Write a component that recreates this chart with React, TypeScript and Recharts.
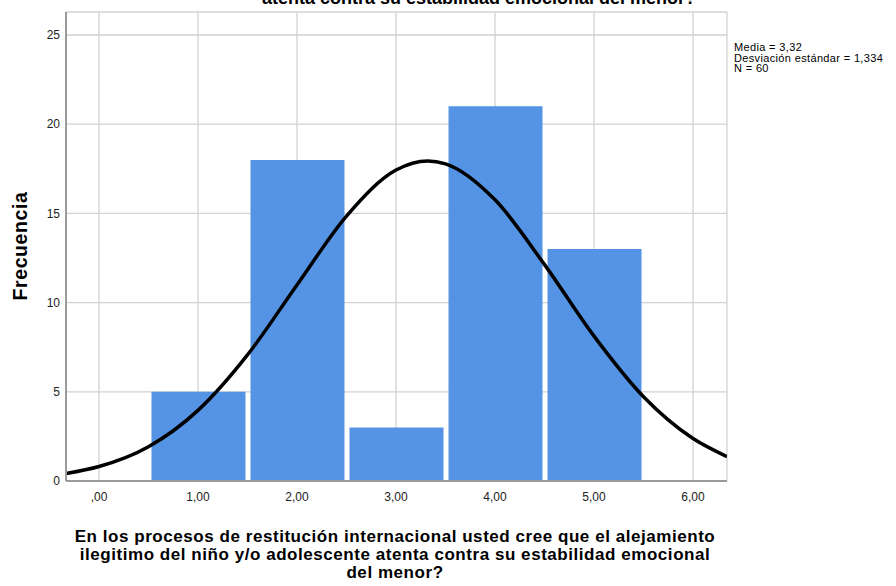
import React from "react";
import {
  ComposedChart,
  Bar,
  Line,
  XAxis,
  YAxis,
  CartesianGrid,
} from "recharts";

// Histogram bins (centres) and frequencies
const binCenters = [1, 2, 3, 4, 5];
const frequencies = [5, 18, 3, 21, 13];

// Normal curve
const curveX = [-0.333, 0, 0.5, 1, 1.5, 2, 2.5, 3, 3.32, 3.5, 4, 4.5, 5, 5.5, 6, 6.343];
const curveY = [0.42, 0.81, 1.92, 3.96, 7.07, 10.99, 14.85, 17.43, 17.94, 17.78, 15.76, 12.13, 8.12, 4.72, 2.38, 1.37];

// Axis ticks and labels
const xTicks = [0, 1, 2, 3, 4, 5, 6];
const xTickLabels = [",00", "1,00", "2,00", "3,00", "4,00", "5,00", "6,00"];
const yTicks = [0, 5, 10, 15, 20, 25];

const titleTail = "atenta contra su estabilidad emocional del menor?";
const xLabelLines = [
  "En los procesos de restitución internacional usted cree que el alejamiento",
  "ilegitimo del niño y/o adolescente atenta contra su estabilidad emocional",
  "del menor?",
];
const statsLines = ["Media = 3,32", "Desviación estándar = 1,334", "N = 60"];
const yLabel = "Frecuencia";

const barRows = binCenters.map((x, i) => ({ x, count: frequencies[i] }));
const curveRows = curveX.map((x, i) => ({ x, y: curveY[i] }));

const FONT = "'Liberation Sans', Arial, sans-serif";
const X_DOMAIN: [number, number] = [-0.333, 6.343];

export default function App() {
  return (
    <div style={{ position: "absolute", left: 0, top: 0, width: 896, height: 586, background: "#fff" }}>
      <ComposedChart
        width={896}
        height={586}
        data={barRows}
        margin={{ top: 12, right: 169, bottom: 75, left: 0 }}
        style={{ fontFamily: FONT }}
      >
        <CartesianGrid stroke="#d2d2d2" strokeWidth={1.3} />
        <XAxis
          dataKey="x"
          type="number"
          domain={X_DOMAIN}
          allowDataOverflow
          ticks={xTicks}
          tickFormatter={(v: number) => xTickLabels[xTicks.indexOf(v)] ?? ""}
          tickLine={false}
          tickSize={6}
          tickMargin={5}
          height={30}
          axisLine={{ stroke: "#9a9a9a", strokeWidth: 2 }}
          tick={{ fill: "#222", fontSize: 12 }}
        />
        <XAxis
          xAxisId="bars"
          dataKey="x"
          type="number"
          domain={X_DOMAIN}
          allowDataOverflow
          ticks={xTicks}
          hide
          height={30}
        />
        <YAxis
          type="number"
          domain={[0, 26.29]}
          allowDataOverflow
          ticks={yTicks}
          width={66}
          tickLine={false}
          tickSize={6}
          tickMargin={0}
          axisLine={{ stroke: "#9a9a9a", strokeWidth: 2 }}
          tick={{ fill: "#222", fontSize: 12 }}
        />
        <Bar xAxisId="bars" dataKey="count" fill="#5594e5" barSize={94} isAnimationActive={false} />
        <Line
          data={curveRows}
          dataKey="y"
          type="monotone"
          stroke="#000"
          strokeWidth={3.5}
          dot={false}
          activeDot={false}
          isAnimationActive={false}
        />
      </ComposedChart>
      <svg
        width={896}
        height={586}
        style={{ position: "absolute", left: 0, top: 0, pointerEvents: "none", fontFamily: FONT }}
      >
        <text x={262} y={4} fontSize={18} fontWeight="bold" fill="#000">
          {titleTail}
        </text>
        {statsLines.map((s, i) => (
          <text key={i} x={734} y={51 + i * 10.5} fontSize={11} letterSpacing={0.35} fill="#000">
            {s}
          </text>
        ))}
        <text
          transform="translate(27,246) rotate(-90)"
          textAnchor="middle"
          fontSize={19.5}
          fontWeight="bold"
          letterSpacing={0.6}
          fill="#000"
        >
          {yLabel}
        </text>
        {xLabelLines.map((s, i) => (
          <text
            key={i}
            x={395}
            y={542 + i * 18}
            textAnchor="middle"
            fontSize={17}
            letterSpacing={0.55}
            fontWeight="bold"
            fill="#000"
          >
            {s}
          </text>
        ))}
      </svg>
    </div>
  );
}
